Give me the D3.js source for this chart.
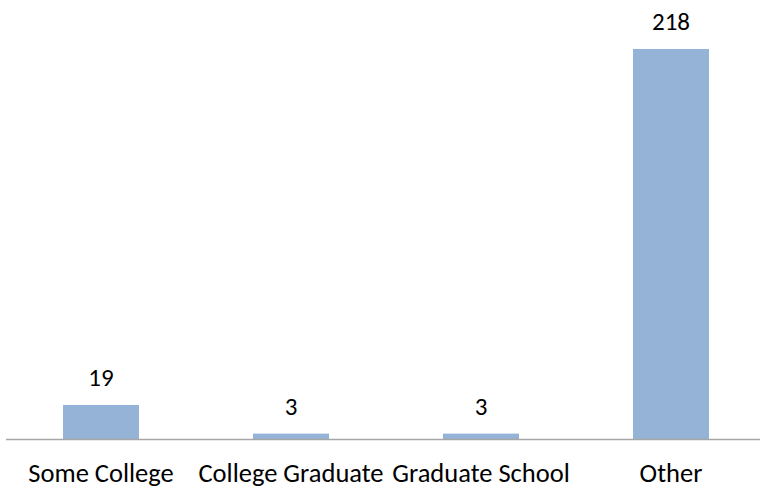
<!DOCTYPE html>
<html>
<head>
<meta charset="utf-8">
<script src="https://cdn.jsdelivr.net/npm/d3@7"></script>
<style>
  html, body { margin: 0; padding: 0; background: #ffffff; }
  svg { display: block; font-family: Carlito, Calibri, Lato, "Open Sans", sans-serif; }
</style>
</head>
<body>
<svg id="chart" width="760" height="490"></svg>
<script>
const categories = ["Some College", "College Graduate", "Graduate School", "Other"];
const counts = [19, 3, 3, 218];

const svg = d3.select("#chart");
const baseline = 439;

const x = d3.scaleBand()
  .domain(categories)
  .range([6, 766])
  .paddingInner(0.6)
  .paddingOuter(0.3);

const y = d3.scaleLinear()
  .domain([0, 218])
  .range([baseline, 49]);

const data = categories.map((c, i) => ({ cat: c, value: counts[i] }));

svg.append("g")
  .selectAll("rect")
  .data(data)
  .join("rect")
  .attr("x", d => x(d.cat))
  .attr("y", d => y(d.value))
  .attr("width", x.bandwidth())
  .attr("height", d => baseline - y(d.value))
  .attr("fill", "#95b3d7");

// category axis
const axis = svg.append("g")
  .attr("transform", `translate(0,${baseline})`)
  .call(d3.axisBottom(x).tickSize(0).tickPadding(0));
axis.select(".domain")
  .attr("d", `M6,0.5H760`)
  .attr("stroke", "#a6a6a6")
  .attr("stroke-width", 1.3);
axis.selectAll("text")
  .attr("y", 43)
  .attr("dy", null)
  .attr("fill", "#000")
  .style("font-family", "Carlito, Calibri, Lato, 'Open Sans', sans-serif")
  .style("font-size", "26.5px");

// value labels
svg.append("g")
  .selectAll("text")
  .data(data)
  .join("text")
  .attr("x", d => x(d.cat) + x.bandwidth() / 2)
  .attr("y", d => y(d.value) - 19)
  .attr("text-anchor", "middle")
  .attr("fill", "#000")
  .style("font-size", "25px")
  .text(d => d.value);
</script>
</body>
</html>
